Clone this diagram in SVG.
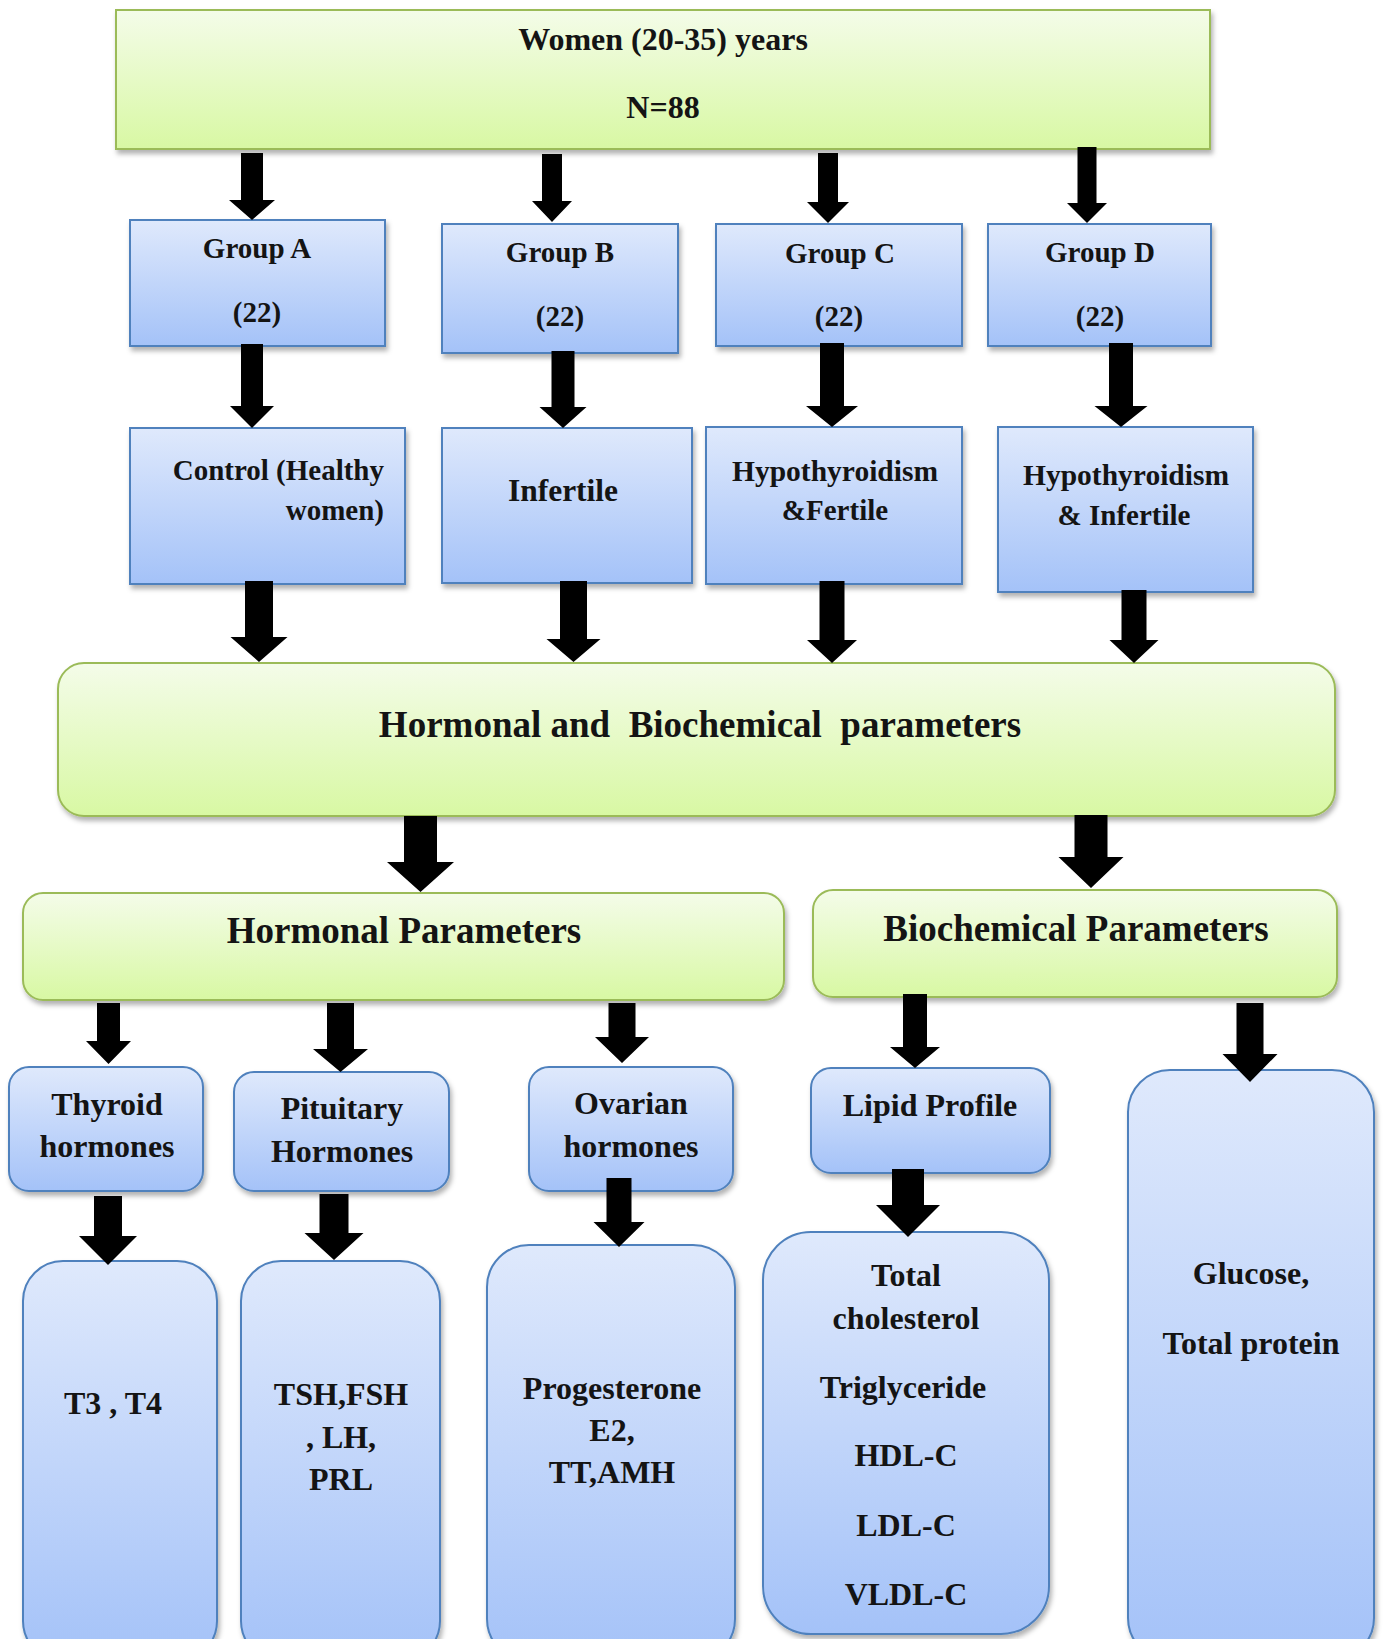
<svg xmlns="http://www.w3.org/2000/svg" width="1384" height="1639" viewBox="0 0 1384 1639">
<defs>
<linearGradient id="gG" x1="0" y1="0" x2="0" y2="1">
<stop offset="0" stop-color="#f4fce9"/>
<stop offset="1" stop-color="#d8f8a3"/>
</linearGradient>
<linearGradient id="gB" x1="0" y1="0" x2="0" y2="1">
<stop offset="0" stop-color="#dfe9fc"/>
<stop offset="1" stop-color="#a4c2f8"/>
</linearGradient>
<filter id="sh" x="-10%" y="-10%" width="120%" height="130%">
<feDropShadow dx="2" dy="4" stdDeviation="2.5" flood-color="#000" flood-opacity="0.3"/>
</filter>
<style>
.g{fill:url(#gG);stroke:#9bbb59;stroke-width:2;filter:url(#sh)}
.b{fill:url(#gB);stroke:#4f81bd;stroke-width:2;filter:url(#sh)}
text{font-family:"Liberation Serif","Times New Roman",serif;font-weight:bold;fill:#141414;text-anchor:middle}
.t29{font-size:29px}
.t32{font-size:32px}
.t37{font-size:37px}
.ar{fill:#000}
</style>
</defs>

<g id="women">
<rect class="g" x="116" y="10" width="1094" height="139"/>
<text class="t32" x="663" y="50">Women (20-35) years</text>
<text class="t32" x="663" y="118">N=88</text>
</g>

<g id="groupA">
<rect class="b" x="130" y="220" width="255" height="126"/>
<text class="t29" x="257" y="258">Group A</text>
<text class="t29" x="257" y="322">(22)</text>
</g>
<g id="groupB">
<rect class="b" x="442" y="224" width="236" height="129"/>
<text class="t29" x="560" y="262">Group B</text>
<text class="t29" x="560" y="326">(22)</text>
</g>
<g id="groupC">
<rect class="b" x="716" y="224" width="246" height="122"/>
<text class="t29" x="840" y="263">Group C</text>
<text class="t29" x="839" y="326">(22)</text>
</g>
<g id="groupD">
<rect class="b" x="988" y="224" width="223" height="122"/>
<text class="t29" x="1100" y="262">Group D</text>
<text class="t29" x="1100" y="326">(22)</text>
</g>

<g id="control">
<rect class="b" x="130" y="428" width="275" height="156"/>
<text class="t29" x="384" y="480" style="text-anchor:end">Control (Healthy</text>
<text class="t29" x="384" y="520" style="text-anchor:end">women)</text>
</g>
<g id="infertile">
<rect class="b" x="442" y="428" width="250" height="155"/>
<text x="563" y="501" style="font-size:31.5px">Infertile</text>
</g>
<g id="hypoFertile">
<rect class="b" x="706" y="427" width="256" height="157"/>
<text x="835" y="481" style="font-size:29.5px">Hypothyroidism</text>
<text class="t29" x="835" y="520">&amp;Fertile</text>
</g>
<g id="hypoInfertile">
<rect class="b" x="998" y="427" width="255" height="165"/>
<text x="1126" y="485" style="font-size:29.5px">Hypothyroidism</text>
<text class="t29" x="1124" y="525">&amp; Infertile</text>
</g>

<g id="hormBio">
<rect class="g" x="58" y="663" width="1277" height="153" rx="26" ry="26"/>
<text class="t37" x="700" y="737" xml:space="preserve">Hormonal and  Biochemical  parameters</text>
</g>

<g id="hormonal">
<rect class="g" x="23" y="893" width="761" height="107" rx="20" ry="20"/>
<text class="t37" x="404" y="943">Hormonal Parameters</text>
</g>
<g id="biochemical">
<rect class="g" x="813" y="890" width="524" height="107" rx="20" ry="20"/>
<text class="t37" x="1076" y="941">Biochemical Parameters</text>
</g>

<g id="thyroid">
<rect class="b" x="9" y="1067" width="194" height="124" rx="20" ry="20"/>
<text class="t32" x="107" y="1115">Thyroid</text>
<text class="t32" x="107" y="1157">hormones</text>
</g>
<g id="pituitary">
<rect class="b" x="234" y="1072" width="215" height="119" rx="20" ry="20"/>
<text class="t32" x="342" y="1119">Pituitary</text>
<text class="t32" x="342" y="1162">Hormones</text>
</g>
<g id="ovarian">
<rect class="b" x="529" y="1067" width="204" height="124" rx="20" ry="20"/>
<text class="t32" x="631" y="1114">Ovarian</text>
<text class="t32" x="631" y="1157">hormones</text>
</g>
<g id="lipid">
<rect class="b" x="811" y="1068" width="239" height="105" rx="20" ry="20"/>
<text class="t32" x="930" y="1116">Lipid Profile</text>
</g>

<g id="t3t4">
<rect class="b" x="23" y="1261" width="194" height="400" rx="40" ry="40"/>
<text class="t32" x="113" y="1414">T3 , T4</text>
</g>
<g id="tsh">
<rect class="b" x="241" y="1261" width="199" height="400" rx="40" ry="40"/>
<text class="t32" x="341" y="1405">TSH,FSH</text>
<text class="t32" x="341" y="1448">, LH,</text>
<text class="t32" x="341" y="1490">PRL</text>
</g>
<g id="prog">
<rect class="b" x="487" y="1245" width="248" height="416" rx="42" ry="42"/>
<text class="t32" x="612" y="1399">Progesterone</text>
<text class="t32" x="612" y="1441">E2,</text>
<text class="t32" x="612" y="1483">TT,AMH</text>
</g>
<g id="lipids">
<rect class="b" x="763" y="1232" width="286" height="402" rx="48" ry="48"/>
<text class="t32" x="906" y="1286">Total</text>
<text class="t32" x="906" y="1329">cholesterol</text>
<text class="t32" x="903" y="1398">Triglyceride</text>
<text class="t32" x="906" y="1466">HDL-C</text>
<text class="t32" x="906" y="1536">LDL-C</text>
<text class="t32" x="906" y="1605">VLDL-C</text>
</g>
<g id="glucose">
<rect class="b" x="1128" y="1070" width="246" height="590" rx="42" ry="42"/>
<text class="t32" x="1251" y="1284">Glucose,</text>
<text class="t32" x="1251" y="1354">Total protein</text>
</g>

<g id="connectors" class="ar">
<polygon class="ar" points="241,153 263,153 263,200 275,200 252,220 229,200 241,200"/>
<polygon class="ar" points="542,154 562,154 562,201 572,201 552,222 532,201 542,201"/>
<polygon class="ar" points="818,153 838,153 838,202 849,202 828,223 807,202 818,202"/>
<polygon class="ar" points="1077.5,147 1096.5,147 1096.5,203 1107,203 1087,223 1067,203 1077.5,203"/>
<polygon class="ar" points="241,344 263,344 263,406 274,406 252,428 230,406 241,406"/>
<polygon class="ar" points="551.5,351 574.5,351 574.5,407 586.5,407 563,428 539.5,407 551.5,407"/>
<polygon class="ar" points="820,343 844,343 844,406 858,406 832,427 806,406 820,406"/>
<polygon class="ar" points="1109,343 1133,343 1133,406 1147.5,406 1121,427 1094.5,406 1109,406"/>
<polygon class="ar" points="245,581 273,581 273,637 287.5,637 259,662 230.5,637 245,637"/>
<polygon class="ar" points="560,581 587,581 587,639 600.5,639 573.5,662 546.5,639 560,639"/>
<polygon class="ar" points="819.5,581 844.5,581 844.5,640 857,640 832,663 807,640 819.5,640"/>
<polygon class="ar" points="1121.5,590 1146.5,590 1146.5,640 1158.5,640 1134,663 1109.5,640 1121.5,640"/>
<polygon class="ar" points="404,816 437,816 437,862 454,862 420.5,892 387,862 404,862"/>
<polygon class="ar" points="1074.5,815 1107.5,815 1107.5,857 1123.5,857 1091,888 1058.5,857 1074.5,857"/>
<polygon class="ar" points="97,1003 120,1003 120,1041 131,1041 108.5,1064 86,1041 97,1041"/>
<polygon class="ar" points="327,1003 354,1003 354,1049 368,1049 340.5,1072 313,1049 327,1049"/>
<polygon class="ar" points="608.5,1003 635.5,1003 635.5,1037 649,1037 622,1063 595,1037 608.5,1037"/>
<polygon class="ar" points="903,994 927,994 927,1047 940,1047 915,1068 890,1047 903,1047"/>
<polygon class="ar" points="1236.5,1003 1263.5,1003 1263.5,1054 1277.5,1054 1250,1082 1222.5,1054 1236.5,1054"/>
<polygon class="ar" points="94,1196 122,1196 122,1236 137,1236 108,1265 79,1236 94,1236"/>
<polygon class="ar" points="319.5,1194 348.5,1194 348.5,1233 363.5,1233 334,1260 304.5,1233 319.5,1233"/>
<polygon class="ar" points="606.5,1178 631.5,1178 631.5,1222 644.5,1222 619,1247 593.5,1222 606.5,1222"/>
<polygon class="ar" points="892,1169 924,1169 924,1205 940,1205 908,1237 876,1205 892,1205"/>
</g>
</svg>
